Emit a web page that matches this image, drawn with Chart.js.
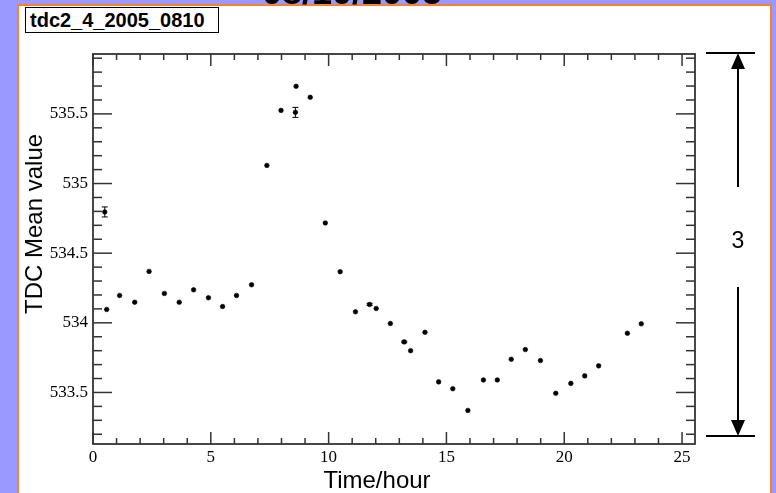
<!DOCTYPE html>
<html>
<head>
<meta charset="utf-8">
<title>tdc2_4_2005_0810</title>
<script src="https://cdn.jsdelivr.net/npm/chart.js@4.4.1/dist/chart.umd.min.js"></script>
<style>
    html, body { margin: 0; padding: 0; background: #9999ff; }
    #wrap { position: relative; width: 776px; height: 493px; overflow: hidden; }
    #panel {
        position: absolute; left: 17px; top: 4px; width: 755px; height: 600px;
        box-sizing: border-box; border: 2.5px solid #ff7f2a; background: #fff;
    }
    #chart { position: absolute; left: 0; top: 0; }
    .txt { position: absolute; font-family: "Liberation Sans", Arial, sans-serif; color: #000; white-space: nowrap; }
    #title { left: 352px; top: -26px; transform: translateX(-50%); font-size: 36px; font-weight: bold; line-height: 36px; }
    #label {
        left: 25px; top: 7px; width: 188px; height: 24px; line-height: 24px;
        border: 1.5px solid #000; background: #fff; padding-left: 4px; box-sizing: content-box;
        font-size: 20px; font-weight: bold;
    }
    #xtitle { left: 377px; top: 468px; transform: translateX(-50%); font-size: 24px; line-height: 24px; }
    #ytitle { left: 34px; top: 224px; transform: translate(-50%, -50%) rotate(-90deg); font-size: 24px; line-height: 24px; }
    #dimtext { left: 738px; top: 229px; transform: translateX(-50%); font-size: 23px; line-height: 23px; }
</style>
</head>
<body>
<div id="wrap">
    <div id="panel"></div>
    <canvas id="chart" width="776" height="493"></canvas>
    <div class="txt" id="title">08/10/2005</div>
    <div class="txt" id="label">tdc2_4_2005_0810</div>
    <div class="txt" id="ytitle">TDC Mean value</div>
    <div class="txt" id="xtitle">Time/hour</div>
    <div class="txt" id="dimtext">3</div>
</div>
<script>
// measured points (hour of day, TDC mean)
const hours = [0.50, 0.58, 1.13, 1.77, 2.38, 3.03, 3.66, 4.27, 4.90, 5.50,
    6.09, 6.73, 7.38, 7.98, 8.59, 8.62, 9.22, 9.86, 10.49, 11.14,
    11.74, 12.02, 12.62, 13.21, 13.48, 14.09, 14.67, 15.27, 15.91, 16.57,
    17.16, 17.75, 18.35, 18.99, 19.64, 20.28, 20.87, 21.46, 22.68, 23.27];
const meanValues = [534.796, 534.096, 534.196, 534.148, 534.369, 534.211, 534.148, 534.237, 534.180, 534.117,
    534.196, 534.273, 535.130, 535.525, 535.511, 535.698, 535.619, 534.717, 534.367, 534.079,
    534.132, 534.103, 533.995, 533.863, 533.800, 533.932, 533.576, 533.527, 533.371, 533.590,
    533.590, 533.738, 533.808, 533.729, 533.494, 533.565, 533.619, 533.691, 533.925, 533.993];
const meanErrors = [0.036, 0, 0, 0, 0, 0, 0, 0, 0, 0,
    0, 0, 0, 0, 0.036, 0, 0, 0, 0, 0,
    0.008, 0, 0, 0.006, 0, 0, 0, 0, 0, 0,
    0, 0, 0, 0, 0, 0, 0, 0, 0, 0];

const xTickValues = [0, 5, 10, 15, 20, 25];
const xTickLabels = ["0", "5", "10", "15", "20", "25"];
const yTickValues = [533.5, 534, 534.5, 535, 535.5];
const yTickLabels = ["533.5", "534", "534.5", "535", "535.5"];

const AXIS_COLOR = "#333";

// ROOT style frame with ticks drawn inward on all four sides
const frameTicks = {
    id: "frameTicks",
    afterDraw(chart) {
        const { ctx, chartArea: a, scales: { x, y } } = chart;
        ctx.save();
        ctx.strokeStyle = AXIS_COLOR;
        ctx.lineWidth = 1.5;
        const line = (x1, y1, x2, y2) => { ctx.beginPath(); ctx.moveTo(x1, y1); ctx.lineTo(x2, y2); ctx.stroke(); };

        for (let v = Math.ceil(x.min); v <= x.max; v++) {
            const px = x.getPixelForValue(v);
            const len = v % 5 === 0 ? 12 : 6;
            line(px, a.bottom, px, a.bottom - len);
            line(px, a.top, px, a.top + len);
        }
        for (let i = Math.ceil(y.min * 10); i <= Math.floor(y.max * 10); i++) {
            const py = y.getPixelForValue(i / 10);
            const len = i % 5 === 0 ? 19 : 9;
            line(a.left, py, a.left + len, py);
            line(a.right, py, a.right - len, py);
        }
        ctx.lineWidth = 1.8;
        ctx.strokeRect(a.left, a.top, a.right - a.left, a.bottom - a.top);
        ctx.restore();
    }
};

const errorBars = {
    id: "errorBars",
    afterDatasetsDraw(chart) {
        const { ctx, scales: { x, y } } = chart;
        ctx.save();
        ctx.strokeStyle = "#000";
        ctx.lineWidth = 1;
        meanErrors.forEach((e, i) => {
            if (!e) return;
            const px = x.getPixelForValue(hours[i]);
            const y1 = y.getPixelForValue(meanValues[i] - e);
            const y2 = y.getPixelForValue(meanValues[i] + e);
            ctx.beginPath();
            ctx.moveTo(px, y1); ctx.lineTo(px, y2);
            ctx.moveTo(px - 3, y1); ctx.lineTo(px + 3, y1);
            ctx.moveTo(px - 3, y2); ctx.lineTo(px + 3, y2);
            ctx.stroke();
        });
        ctx.restore();
    }
};

// dimension arrow on the right side of the frame
const dimArrow = {
    id: "dimArrow",
    afterDraw(chart) {
        const ctx = chart.ctx;
        const cx = 738, top = 53, bottom = 436;
        ctx.save();
        ctx.strokeStyle = "#000";
        ctx.fillStyle = "#000";
        ctx.lineWidth = 2;
        ctx.beginPath();
        ctx.moveTo(706, top); ctx.lineTo(755, top);
        ctx.moveTo(706, bottom); ctx.lineTo(755, bottom);
        ctx.moveTo(cx, top + 14); ctx.lineTo(cx, 187);
        ctx.moveTo(cx, 287); ctx.lineTo(cx, bottom - 14);
        ctx.stroke();
        ctx.beginPath();
        ctx.moveTo(cx, top); ctx.lineTo(cx - 7, top + 16); ctx.lineTo(cx + 7, top + 16); ctx.closePath();
        ctx.moveTo(cx, bottom); ctx.lineTo(cx - 7, bottom - 16); ctx.lineTo(cx + 7, bottom - 16); ctx.closePath();
        ctx.fill();
        ctx.restore();
    }
};

const tickFont = { family: "'Liberation Serif', 'Times New Roman', serif", size: 17 };

new Chart(document.getElementById("chart").getContext("2d"), {
    type: "scatter",
    data: {
        datasets: [{
            label: "TDC Mean value",
            data: hours.map((h, i) => ({ x: h, y: meanValues[i] })),
            pointStyle: "circle",
            pointRadius: 2.3,
            pointBorderWidth: 0.6,
            pointBackgroundColor: "#000",
            pointBorderColor: "#000",
            showLine: false
        }]
    },
    options: {
        responsive: false,
        animation: false,
        events: [],
        layout: { padding: { left: 0, top: 54, right: 81, bottom: 0 } },
        plugins: { legend: { display: false }, tooltip: { enabled: false } },
        scales: {
            x: {
                type: "linear",
                position: "bottom",
                min: 0,
                max: 25.55,
                grid: { display: false, drawTicks: false },
                border: { display: false },
                afterBuildTicks: s => { s.ticks = xTickValues.map(value => ({ value })); },
                afterFit: s => { s.height = 49; },
                ticks: {
                    padding: 3,
                    color: "#000",
                    font: tickFont,
                    maxRotation: 0,
                    callback: (v, i) => xTickLabels[i]
                }
            },
            y: {
                type: "linear",
                position: "left",
                min: 533.13,
                max: 535.93,
                grid: { display: false, drawTicks: false },
                border: { display: false },
                afterBuildTicks: s => { s.ticks = yTickValues.map(value => ({ value })); },
                afterFit: s => { s.width = 93; },
                ticks: {
                    padding: 5,
                    color: "#000",
                    font: tickFont,
                    callback: (v, i) => yTickLabels[i]
                }
            }
        }
    },
    plugins: [frameTicks, errorBars, dimArrow]
});
</script>
</body>
</html>
